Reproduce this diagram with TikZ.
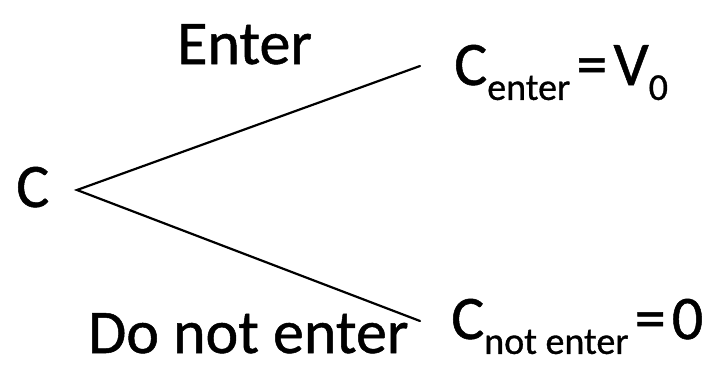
\documentclass[tikz,border=0pt]{standalone}
\usepackage{fontspec}
\setmainfont{Carlito}[FakeBold=0.8]
\newcommand{\subtxt}[1]{\raisebox{-0.24em}{\fontsize{38}{38}\selectfont #1}}
\newcommand{\eqsign}{\hspace{0.1em}=\hspace{0.1em}}
\begin{document}
\begin{tikzpicture}[x=1pt,y=-1pt,
  lbl/.style={inner sep=0pt,anchor=base west,font=\fontsize{62}{62}\selectfont},
  branch/.style={line width=2.2pt,line cap=round}]
\useasboundingbox (0,0) rectangle (711,370);
\node[lbl] (c) at (16,207) {C};
\coordinate (v) at (77,190);
\coordinate (e1) at (420,66);
\coordinate (e2) at (420,321);
\node[lbl] (enter) at (177,64) {Enter};
\node[lbl] (dne) at (88,353) {Do not enter};
\node[lbl] (ce) at (454,85) {C\subtxt{enter}\eqsign V\subtxt{0}};
\node[lbl] (cn) at (451,339) {C\subtxt{not enter}\eqsign 0};
\draw[branch] (e1) -- (v) -- (e2);
\end{tikzpicture}
\end{document}
